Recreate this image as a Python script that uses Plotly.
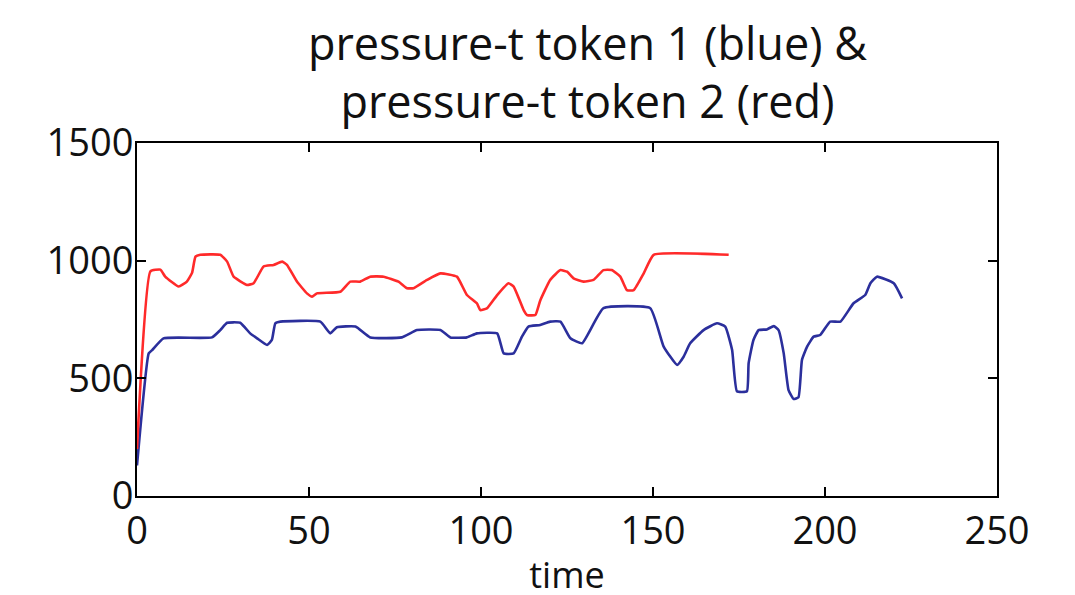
import plotly.graph_objects as go

# token 1 (blue)
t_blue = [0, 3.4, 4.4, 7.7, 21.8, 24.2, 26.2, 30, 32.9, 34.9, 37.8, 39.2, 40.2, 41.7, 53.3, 56.2, 58.1,
          63.5, 67.8, 77, 81.4, 88.2, 91.1, 95.9, 98.8, 104.7, 106.6, 109.5, 111.9, 113.8, 117.2, 120.1,
          123.1, 126, 129.4, 135.6, 149.2, 153.1, 157, 158.9, 160.8, 164.7, 168.6, 171, 173, 174.4,
          177.3, 177.8, 179.2, 180.7, 183.1, 185.1, 186.5, 188, 189.4, 190.9, 192.3, 193.3, 194.8,
          196.7, 198.6, 201.5, 204.5, 208.3, 211.7, 213.2, 215.1, 220, 222.4]
v_blue = [130, 606, 620, 670, 674, 705, 736, 736, 691, 670, 642, 663, 734, 741, 741, 691, 717,
          720, 674, 674, 705, 705, 674, 674, 691, 691, 606, 606, 677, 720, 727, 741,
          741, 670, 649, 798, 798, 635, 557, 592, 649, 705, 734, 720, 620, 445,
          445, 564, 663, 705, 708, 722, 705, 606, 450, 412, 420, 578, 635,
          677, 684, 741, 741, 819, 854, 904, 932, 904, 840]

# token 2 (red)
t_red = [0, 3.9, 6.8, 8.2, 12.1, 14.5, 16, 17, 18.4, 24.2, 26.2, 28.1, 32, 33.9, 36.8, 39.7, 42.2,
         43.6, 46.5, 49.4, 50.9, 52.3, 59.1, 62, 64.9, 67.8, 71.7, 76, 78.5, 80.4, 84.3, 88.2, 93,
         95.9, 98.8, 99.8, 101.7, 104.7, 108, 109.5, 112.4, 113.4, 115.8, 117.2, 120.1, 123.1, 125,
         126.9, 129.8, 132.7, 135.6, 138, 140.5, 142.4, 144.4, 147.3, 150.2, 172]
v_red = [200, 955, 962, 932, 890, 911, 948, 1017, 1025, 1025, 996, 932, 897, 904, 975, 982, 996,
         982, 911, 861, 847, 861, 868, 911, 911, 932, 932, 911, 883, 883, 918, 946, 932,
         854, 819, 790, 797, 854, 904, 890, 790, 769, 769, 830, 918, 960, 953,
         925, 911, 918, 960, 960, 932, 875, 875, 946, 1025, 1025]

x_ticks = [0, 50, 100, 150, 200, 250]
y_ticks = [0, 500, 1000, 1500]

fig = go.Figure()
fig.add_trace(go.Scatter(x=t_blue, y=v_blue, mode="lines",
                         line=dict(color="#2b2f9c", width=2.6, shape="spline", smoothing=0.4),
                         showlegend=False))
fig.add_trace(go.Scatter(x=t_red, y=v_red, mode="lines",
                         line=dict(color="#ff2a2a", width=2.6, shape="spline", smoothing=0.4),
                         showlegend=False))

font_family = "'Open Sans', Lato, sans-serif"
fig.update_layout(
    width=1075, height=595,
    margin=dict(l=129, r=86, t=135, b=107),
    paper_bgcolor="white", plot_bgcolor="white",
    font=dict(family=font_family, size=38, color="#111111"),
    title=dict(text="pressure-t token 1 (blue) &<br>pressure-t token 2 (red)",
               x=0.539, xref="container", xanchor="center",
               y=0.913, yref="container", yanchor="middle",
               font=dict(size=45, family=font_family, color="#111111")),
)
fig.update_xaxes(range=[0, 250], tickvals=x_ticks, ticks="inside", ticklen=9, tickwidth=2,
                 tickcolor="black", showline=True, linecolor="black", linewidth=2, mirror="ticks",
                 showgrid=False, zeroline=False,
                 title=dict(text="time", font=dict(size=36), standoff=9),
                 tickfont=dict(size=38))
fig.update_yaxes(range=[0, 1500], tickvals=y_ticks, ticks="inside", ticklen=9, tickwidth=2,
                 tickcolor="black", showline=True, linecolor="black", linewidth=2, mirror="ticks",
                 showgrid=False, zeroline=False, tickfont=dict(size=38), ticklabelstandoff=-6)

fig.write_html("out.html")
